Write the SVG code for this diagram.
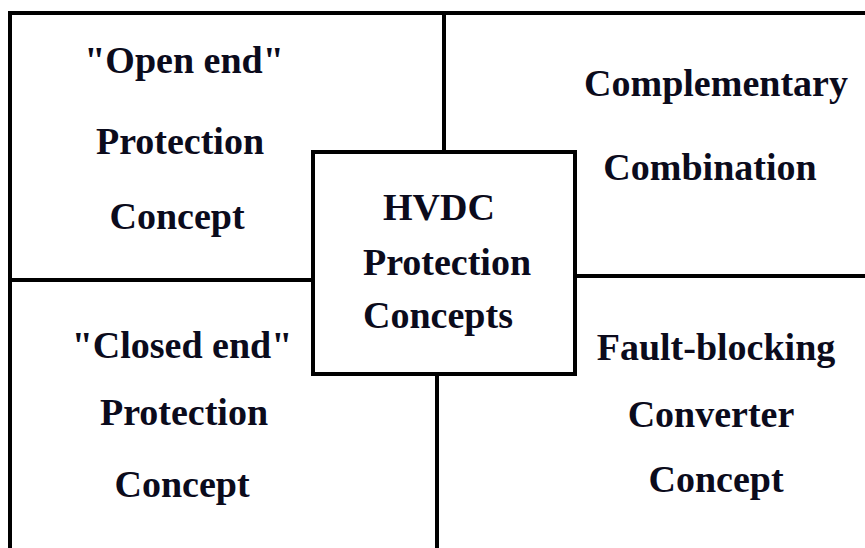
<svg xmlns="http://www.w3.org/2000/svg" width="865" height="548" viewBox="0 0 865 548">
<style>
.ln{stroke:#000;stroke-width:4;fill:none;stroke-linecap:square}
.t{font-family:"Liberation Serif","Times New Roman",serif;font-weight:bold;font-size:38px;fill:#0b0b1c;text-anchor:middle}
</style>
<rect width="865" height="548" fill="#fff"/>
<g id="frame">
<path class="ln" d="M10,548 V13 H867"/>
<path class="ln" d="M444,13 V152"/>
<path class="ln" d="M10,280 H313"/>
<path class="ln" d="M575,276 H867"/>
<path class="ln" d="M437,374 V550"/>
</g>
<g id="open-end">
<text class="t" x="184" y="73">"Open end"</text>
<text class="t" x="180" y="154">Protection</text>
<text class="t" x="177" y="229">Concept</text>
</g>
<g id="complementary">
<text class="t" x="716" y="96">Complementary</text>
<text class="t" x="710" y="180">Combination</text>
</g>
<g id="closed-end">
<text class="t" x="182" y="358">"Closed end"</text>
<text class="t" x="184" y="425">Protection</text>
<text class="t" x="182" y="497">Concept</text>
</g>
<g id="fault-blocking">
<text class="t" x="716" y="360">Fault-blocking</text>
<text class="t" x="711" y="427">Converter</text>
<text class="t" x="716" y="492">Concept</text>
</g>
<g id="center">
<rect class="ln" x="313" y="152" width="262" height="222" fill="#fff"/>
<text class="t" x="439" y="220">HVDC</text>
<text class="t" x="447" y="275">Protection</text>
<text class="t" x="438" y="328">Concepts</text>
</g>
</svg>
